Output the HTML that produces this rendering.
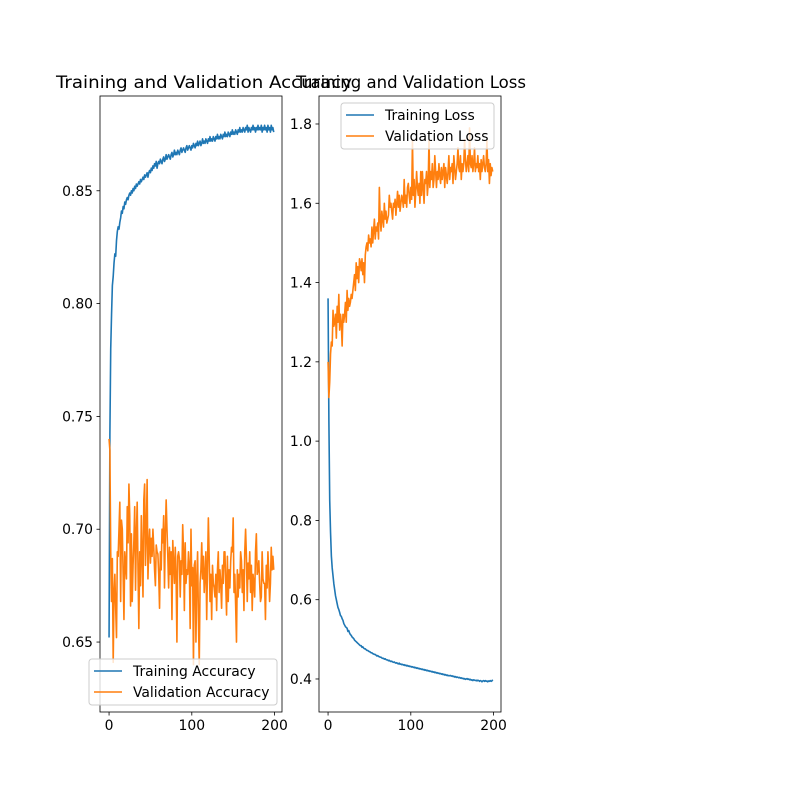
<!DOCTYPE html>
<html><head><meta charset="utf-8"><style>
html,body{margin:0;padding:0;background:#fff;}
svg{display:block;font-family:"DejaVu Sans","Liberation Sans",sans-serif;}
</style></head><body>
<svg id="fig" width="800" height="800" viewBox="0 0 800 800"></svg>
<script>
const epochs = 200;
const xTicks = [0, 100, 200];
const accTicks = [0.65, 0.70, 0.75, 0.80, 0.85];
const lossTicks = [0.4, 0.6, 0.8, 1.0, 1.2, 1.4, 1.6, 1.8];
const trainAcc = [
0.652,0.742,0.780,0.795,0.808,0.812,0.818,0.822,0.821,0.828,
0.832,0.834,0.833,0.836,0.838,0.841,0.840,0.843,0.842,0.845,
0.844,0.846,0.847,0.846,0.848,0.849,0.848,0.850,0.849,0.851,
0.850,0.852,0.851,0.853,0.852,0.853,0.854,0.853,0.855,0.854,
0.855,0.856,0.855,0.857,0.856,0.857,0.858,0.856,0.858,0.859,
0.858,0.860,0.859,0.861,0.860,0.862,0.861,0.863,0.860,0.862,
0.863,0.862,0.864,0.863,0.862,0.864,0.865,0.863,0.864,0.866,
0.864,0.865,0.866,0.865,0.864,0.866,0.867,0.865,0.866,0.868,
0.866,0.867,0.866,0.868,0.867,0.866,0.868,0.869,0.867,0.868,
0.869,0.868,0.867,0.869,0.870,0.868,0.869,0.870,0.869,0.868,
0.870,0.869,0.871,0.870,0.869,0.871,0.870,0.872,0.870,0.871,
0.872,0.870,0.871,0.873,0.871,0.872,0.871,0.873,0.872,0.871,
0.873,0.872,0.874,0.872,0.873,0.872,0.874,0.873,0.872,0.874,
0.873,0.875,0.873,0.874,0.873,0.875,0.874,0.873,0.875,0.874,
0.876,0.874,0.875,0.874,0.876,0.875,0.874,0.876,0.875,0.877,
0.875,0.876,0.875,0.877,0.876,0.875,0.877,0.876,0.878,0.876,
0.877,0.876,0.878,0.877,0.876,0.878,0.877,0.879,0.876,0.878,
0.877,0.876,0.878,0.877,0.879,0.877,0.878,0.876,0.878,0.877,
0.879,0.877,0.878,0.877,0.879,0.876,0.878,0.877,0.879,0.877,
0.878,0.876,0.879,0.877,0.878,0.876,0.879,0.877,0.878,0.876
];
const valAcc = [
0.740,0.735,0.690,0.668,0.687,0.641,0.672,0.680,0.665,0.652,
0.690,0.688,0.700,0.712,0.668,0.704,0.700,0.680,0.660,0.690,
0.684,0.678,0.710,0.694,0.720,0.706,0.666,0.698,0.668,0.684,
0.695,0.710,0.673,0.698,0.712,0.682,0.656,0.690,0.675,0.706,
0.688,0.670,0.713,0.720,0.684,0.698,0.722,0.678,0.692,0.700,
0.685,0.696,0.688,0.700,0.692,0.682,0.675,0.693,0.690,0.689,
0.680,0.665,0.690,0.682,0.700,0.694,0.706,0.674,0.698,0.713,
0.700,0.688,0.674,0.692,0.680,0.690,0.660,0.695,0.685,0.676,
0.692,0.680,0.650,0.688,0.690,0.687,0.670,0.686,0.680,0.702,
0.690,0.664,0.694,0.676,0.682,0.680,0.690,0.684,0.656,0.700,
0.675,0.683,0.640,0.684,0.686,0.650,0.678,0.690,0.660,0.640,
0.676,0.682,0.694,0.678,0.688,0.672,0.680,0.690,0.660,0.684,
0.705,0.688,0.668,0.680,0.660,0.684,0.676,0.674,0.670,0.680,
0.664,0.682,0.690,0.672,0.682,0.676,0.665,0.684,0.676,0.690,
0.690,0.676,0.662,0.688,0.668,0.682,0.674,0.686,0.692,0.690,
0.705,0.672,0.680,0.666,0.650,0.682,0.670,0.680,0.674,0.690,
0.686,0.672,0.682,0.664,0.690,0.700,0.688,0.668,0.685,0.678,
0.690,0.672,0.684,0.664,0.680,0.676,0.670,0.690,0.698,0.680,
0.682,0.686,0.676,0.668,0.670,0.690,0.678,0.676,0.676,0.660,
0.684,0.674,0.690,0.680,0.668,0.676,0.692,0.682,0.688,0.682
];
const trainLoss = [
1.360,1.050,0.850,0.770,0.710,0.680,0.660,0.640,0.625,0.610,
0.600,0.590,0.580,0.575,0.568,0.560,0.558,0.552,0.548,0.540,
0.536,0.532,0.530,0.528,0.520,0.522,0.516,0.512,0.510,0.506,
0.504,0.502,0.498,0.496,0.494,0.492,0.490,0.488,0.486,0.484,
0.484,0.480,0.481,0.478,0.476,0.476,0.474,0.472,0.472,0.470,
0.469,0.468,0.466,0.466,0.464,0.463,0.462,0.462,0.460,0.458,
0.459,0.457,0.456,0.455,0.455,0.453,0.452,0.452,0.450,0.451,
0.449,0.448,0.448,0.446,0.447,0.445,0.444,0.445,0.443,0.442,
0.443,0.441,0.440,0.441,0.439,0.438,0.440,0.437,0.438,0.436,
0.437,0.435,0.436,0.434,0.435,0.433,0.434,0.432,0.433,0.431,
0.432,0.430,0.431,0.429,0.430,0.428,0.429,0.427,0.428,0.426,
0.427,0.425,0.426,0.424,0.425,0.423,0.424,0.422,0.423,0.421,
0.422,0.420,0.421,0.419,0.420,0.418,0.419,0.417,0.418,0.416,
0.417,0.415,0.416,0.414,0.415,0.413,0.414,0.412,0.413,0.411,
0.412,0.410,0.411,0.409,0.410,0.408,0.409,0.408,0.409,0.407,
0.408,0.406,0.407,0.405,0.406,0.404,0.405,0.404,0.403,0.404,
0.402,0.403,0.401,0.402,0.400,0.401,0.399,0.400,0.401,0.399,
0.400,0.398,0.399,0.397,0.398,0.396,0.398,0.397,0.396,0.397,
0.395,0.397,0.396,0.394,0.396,0.395,0.393,0.395,0.396,0.394,
0.396,0.394,0.395,0.393,0.395,0.394,0.396,0.394,0.395,0.398
];
const valLoss = [
1.200,1.110,1.150,1.220,1.250,1.240,1.330,1.290,1.300,1.320,
1.260,1.340,1.300,1.370,1.280,1.320,1.300,1.240,1.320,1.300,
1.320,1.350,1.300,1.380,1.330,1.360,1.340,1.350,1.370,1.360,
1.380,1.400,1.420,1.380,1.450,1.410,1.440,1.400,1.460,1.450,
1.430,1.460,1.420,1.450,1.400,1.470,1.490,1.500,1.480,1.520,
1.500,1.510,1.490,1.540,1.500,1.530,1.560,1.510,1.540,1.530,
1.550,1.510,1.640,1.560,1.530,1.580,1.560,1.540,1.600,1.560,
1.580,1.550,1.560,1.570,1.620,1.590,1.600,1.580,1.560,1.600,
1.590,1.610,1.570,1.600,1.630,1.590,1.620,1.580,1.600,1.620,
1.610,1.590,1.660,1.600,1.620,1.590,1.640,1.650,1.620,1.600,
1.640,1.610,1.760,1.620,1.660,1.590,1.630,1.680,1.640,1.620,
1.650,1.600,1.680,1.620,1.680,1.640,1.600,1.660,1.650,1.680,
1.620,1.650,1.760,1.640,1.680,1.660,1.700,1.640,1.660,1.720,
1.680,1.640,1.680,1.660,1.700,1.670,1.650,1.690,1.660,1.680,
1.700,1.640,1.690,1.670,1.650,1.680,1.720,1.660,1.690,1.680,
1.700,1.650,1.720,1.690,1.660,1.680,1.700,1.740,1.690,1.680,
1.720,1.660,1.700,1.680,1.700,1.760,1.710,1.680,1.700,1.720,
1.680,1.790,1.700,1.690,1.720,1.680,1.700,1.740,1.680,1.700,
1.690,1.720,1.680,1.700,1.660,1.710,1.680,1.700,1.720,1.690,
1.680,1.700,1.760,1.680,1.710,1.650,1.700,1.670,1.690,1.680
];

const NS = 'http://www.w3.org/2000/svg';
const svg = document.getElementById('fig');
function mk(tag, attrs, parent) {
  const e = document.createElementNS(NS, tag);
  for (const k in attrs) e.setAttribute(k, attrs[k]);
  (parent || svg).appendChild(e);
  return e;
}
function makeAxes(box, xDom, yDom) {
  const sx = v => box.x0 + (v - xDom[0]) / (xDom[1] - xDom[0]) * (box.x1 - box.x0);
  const sy = v => box.y1 - (v - yDom[0]) / (yDom[1] - yDom[0]) * (box.y1 - box.y0);
  return {sx, sy};
}
function drawPanel(opts) {
  const {box, xDom, yDom, yTicks, yFmt, title, titleX, s1, s2, n1, n2, legend, name} = opts;
  const g = mk('g', {});
  
  
  const {sx, sy} = makeAxes(box, xDom, yDom);
  const clipId = name + '-clip';
  const cp = mk('clipPath', {id: clipId}, g);
  mk('rect', {x: box.x0, y: box.y0, width: box.x1 - box.x0, height: box.y1 - box.y0}, cp);
  [[s1, '#1f77b4', n1], [s2, '#ff7f0e', n2]].forEach(([arr, col, nm]) => {
    const d = arr.map((v, i) => (i ? 'L' : 'M') + sx(i).toFixed(2) + ' ' + sy(v).toFixed(2)).join(' ');
    const p = mk('path', {d, fill: 'none', stroke: col, 'stroke-width': 1.6, 'stroke-linejoin': 'round', 'clip-path': 'url(#' + clipId + ')'}, g);
    
    
  });
  const fr = mk('rect', {x: box.x0, y: box.y0, width: box.x1 - box.x0, height: box.y1 - box.y0, fill: 'none', stroke: '#000', 'stroke-width': 0.8}, g);
  
  
  xTicks.forEach(t => {
    const x = sx(t);
    mk('line', {x1: x, x2: x, y1: box.y1, y2: box.y1 + 3.5, stroke: '#000', 'stroke-width': 0.8}, g);
    const tx = mk('text', {x, y: box.y1 + 18, 'font-size': 13.9, 'text-anchor': 'middle'}, g);
    tx.textContent = t;
    
    
  });
  yTicks.forEach(t => {
    const y = sy(t);
    mk('line', {x1: box.x0 - 3.5, x2: box.x0, y1: y, y2: y, stroke: '#000', 'stroke-width': 0.8}, g);
    const tx = mk('text', {x: box.x0 - 7, y: y + 5, 'font-size': 13.9, 'text-anchor': 'end'}, g);
    tx.textContent = yFmt(t);
    
    
  });
  const tt = mk('text', {x: titleX, y: box.y0 - 8, 'font-size': 16.7, 'text-anchor': 'middle', textLength: opts.titleW, lengthAdjust: 'spacingAndGlyphs'}, g);
  tt.textContent = title;
  
  
  const lg = mk('g', {}, g);
  
  
  mk('rect', {x: legend.x, y: legend.y, width: legend.w, height: 46, rx: 3, fill: '#fff', 'fill-opacity': 0.8, stroke: '#ccc', 'stroke-width': 1}, lg);
  [['#1f77b4', legend.l1], ['#ff7f0e', legend.l2]].forEach(([col, label], i) => {
    const y = legend.y + 12 + i * 21;
    mk('line', {x1: legend.x + 5, x2: legend.x + 33, y1: y, y2: y, stroke: col, 'stroke-width': 1.6}, lg);
    const tx = mk('text', {x: legend.x + 44, y: y + 5, 'font-size': 13.9}, lg);
    tx.textContent = label;
    
    
  });
}
drawPanel({
  name: 'accuracy-panel',
  box: {x0: 100, x1: 282, y0: 96, y1: 712},
  xDom: [-10.95, 209.0], yDom: [0.6190, 0.8920],
  yTicks: accTicks, yFmt: t => t.toFixed(2),
  title: 'Training and Validation Accuracy', titleX: 204, titleW: 296,
  s1: trainAcc, s2: valAcc, n1: 'training-accuracy-line', n2: 'validation-accuracy-line',
  legend: {x: 89, y: 659, w: 188, l1: 'Training Accuracy', l2: 'Validation Accuracy'}
});
drawPanel({
  name: 'loss-panel',
  box: {x0: 319, x1: 501, y0: 96, y1: 712},
  xDom: [-10.95, 209.0], yDom: [0.3167, 1.8706],
  yTicks: lossTicks, yFmt: t => t.toFixed(1),
  title: 'Training and Validation Loss', titleX: 411, titleW: 230,
  s1: trainLoss, s2: valLoss, n1: 'training-loss-line', n2: 'validation-loss-line',
  legend: {x: 341, y: 103, w: 153, l1: 'Training Loss', l2: 'Validation Loss'}
});
</script>
</body></html>
